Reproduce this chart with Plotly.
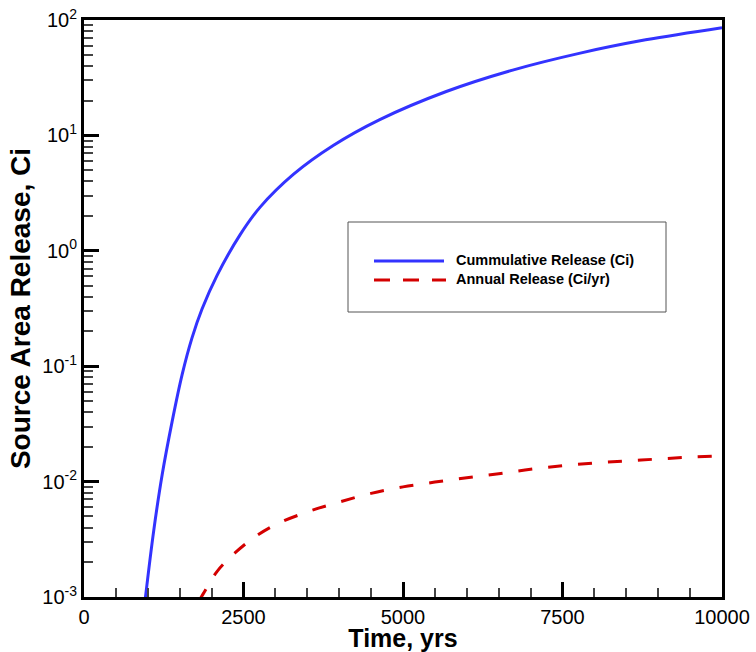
import plotly.graph_objects as go

# Cumulative release (Ci) vs time (yrs)
cum_t = [950, 964, 1094, 1225, 1381, 1537, 1693, 1850, 2084, 2448, 2761, 3281, 3906,
         4636, 5678, 6719, 7761, 8803, 10000]
cum_v = [0.85e-3, 1.0e-3, 3.80e-3, 1.148e-2, 3.31e-2, 8.41e-2, 0.176, 0.313, 0.610, 1.38,
         2.39, 4.59, 8.17, 13.7, 24.0, 36.8, 51.4, 67.3, 85.9]

# Annual release (Ci/yr) vs time (yrs)
ann_t = [1800, 1875, 2084, 2370, 2683, 3022, 3500, 4000, 4500, 5000, 5500, 6000, 6500,
         7000, 7500, 8000, 8500, 9000, 9500, 10000]
ann_v = [0.92e-3, 1.08e-3, 1.66e-3, 2.42e-3, 3.33e-3, 4.29e-3, 5.46e-3, 6.65e-3, 7.9e-3,
         9.0e-3, 9.9e-3, 1.08e-2, 1.17e-2, 1.28e-2, 1.37e-2, 1.45e-2, 1.51e-2, 1.57e-2,
         1.63e-2, 1.67e-2]

series_names = ["Cummulative Release (Ci)", "Annual Release (Ci/yr)"]
series_colors = ["#3333ff", "#d40000"]

x_ticks = [0, 2500, 5000, 7500, 10000]
y_ticks = [1e-3, 1e-2, 1e-1, 1e0, 1e1, 1e2]
y_ticktext = ["10<sup>-3</sup>", "10<sup>-2</sup>", "10<sup>-1</sup>", "10<sup>0</sup>",
              "10<sup>1</sup>", "10<sup>2</sup>"]
y_minor = [m * 10.0 ** k for k in range(-3, 2) for m in range(2, 10)]

font_family = "Liberation Sans, Arial, sans-serif"

fig = go.Figure()
fig.add_trace(go.Scatter(x=cum_t, y=cum_v, mode="lines", name=series_names[0], showlegend=False,
                         line=dict(color=series_colors[0], width=3, shape="spline")))
fig.add_trace(go.Scatter(x=ann_t, y=ann_v, mode="lines", name=series_names[1], showlegend=False,
                         line=dict(color=series_colors[1], width=3, dash="14px,16px", shape="spline")))

# plot-area pixel helpers for the legend box (paper coordinates)
PL, PR, PT, PB = 84, 722, 20, 597
def px(x):
    return (x - PL) / (PR - PL)
def py(y):
    return (PB - y) / (PB - PT)

shapes = [
    dict(type="rect", xref="paper", yref="paper", x0=px(348), x1=px(666), y0=py(312), y1=py(222),
         line=dict(color="#555555", width=1), fillcolor="rgba(0,0,0,0)"),
    dict(type="line", xref="paper", yref="paper", x0=px(374), x1=px(444), y0=py(261), y1=py(261),
         line=dict(color=series_colors[0], width=3)),
    dict(type="line", xref="paper", yref="paper", x0=px(374), x1=px(446), y0=py(280), y1=py(280),
         line=dict(color=series_colors[1], width=3, dash="16px,13px")),
]
annotations = [
    dict(xref="paper", yref="paper", x=px(454), y=py(y0), xanchor="left", yanchor="middle",
         text=name, showarrow=False, font=dict(size=14.5, family=font_family, weight="bold"))
    for name, y0 in zip(series_names, [260, 279])
]

fig.update_layout(
    width=756, height=652,
    margin=dict(l=PL, r=756 - PR, t=PT, b=652 - PB),
    paper_bgcolor="white", plot_bgcolor="white",
    font=dict(family=font_family, color="black"),
    showlegend=False,
    shapes=shapes,
    annotations=annotations,
)

fig.update_xaxes(
    range=[0, 10000], tickvals=x_ticks, tickformat="d",
    ticks="inside", ticklen=15, tickwidth=2.5, tickcolor="black",
    showline=True, linecolor="black", linewidth=3, mirror=True,
    showgrid=False, zeroline=False,
    tickfont=dict(size=20, family=font_family),
    minor=dict(dtick=500, tick0=0, ticks="inside", ticklen=9, tickwidth=1.5, tickcolor="#444444"),
    title=dict(text="Time, yrs", font=dict(size=25, family=font_family, weight="bold"), standoff=4),
    automargin=False,
)
fig.update_yaxes(
    type="log", range=[-3, 2], tickvals=y_ticks, ticktext=y_ticktext,
    ticks="inside", ticklen=15, tickwidth=2.5, tickcolor="black",
    showline=True, linecolor="black", linewidth=3, mirror=True,
    showgrid=False, zeroline=False,
    tickfont=dict(size=20, family=font_family),
    minor=dict(tickvals=y_minor, ticks="inside", ticklen=9, tickwidth=1.5, tickcolor="#444444"),
    title=dict(text="Source Area Release, Ci", font=dict(size=28, family=font_family, weight="bold"),
               standoff=4),
    automargin=False,
)

fig.write_html("out.html")
